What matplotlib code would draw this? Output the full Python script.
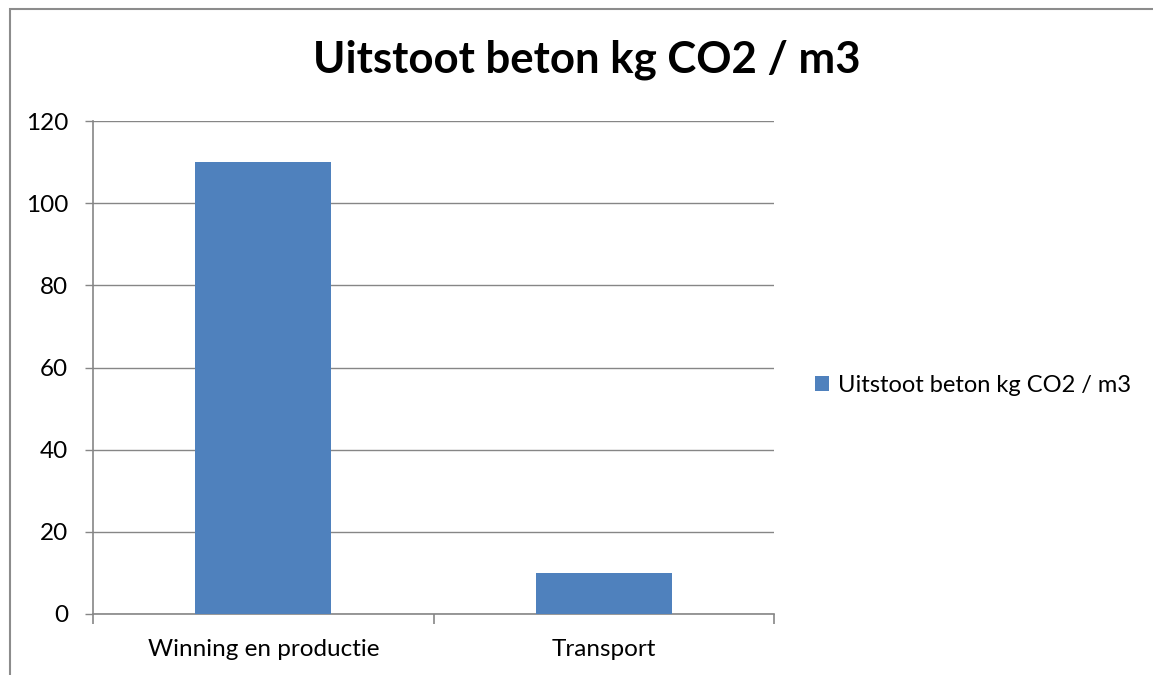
import matplotlib
matplotlib.use("Agg")
import matplotlib.pyplot as plt
from matplotlib.patches import Rectangle

categories = ["Winning en productie", "Transport"]
values = [110, 10]
series_name = "Uitstoot beton kg CO2 / m3"
title = "Uitstoot beton kg CO2 / m3"
yticks = [0, 20, 40, 60, 80, 100, 120]

plt.rcParams['font.family'] = ['Lato', 'DejaVu Sans']
W, H = 1153, 675
fig = plt.figure(figsize=(W/100, H/100), dpi=100)
ax = fig.add_axes([93/W, 1-614/H, (774-93)/W, (614-121)/H])

grid_c = "#868686"
bar_c = "#4F81BD"
x = list(range(len(categories)))
ax.bar(x, values, width=0.4, color=bar_c, label=series_name, zorder=3)
ax.set_xlim(-0.5, len(categories)-0.5)
ax.set_ylim(0, 120)
ax.set_yticks(yticks)
ax.set_yticklabels([str(v) for v in yticks], fontsize=17.5)
ax.yaxis.grid(True, color=grid_c, linewidth=1.0, zorder=0)
ax.set_xticks(x)
ax.set_xticklabels(categories, fontsize=17.5)
ax.set_xticks([-0.5, 0.5, 1.5], minor=True)
ax.tick_params(axis='x', which='major', length=0, pad=18)
ax.tick_params(axis='x', which='minor', length=7, color=grid_c, width=1.2, direction='out')
ax.tick_params(axis='y', length=6, color=grid_c, width=1.0, pad=12)
for s in ['top', 'right']:
    ax.spines[s].set_visible(False)
ax.spines['left'].set_color(grid_c)
ax.spines['bottom'].set_color(grid_c)
ax.spines['left'].set_linewidth(1.2)
ax.spines['bottom'].set_linewidth(1.2)

fig.text(587/W, 1-60/H, title, ha='center', va='center', fontsize=31.5, fontweight='bold')

leg = fig.legend(loc='center left', bbox_to_anchor=(794/W, 1-385/H), frameon=False,
                 fontsize=17, handlelength=0.6, handleheight=0.6, handletextpad=0.35)

fig.add_artist(Rectangle((10/W, -0.1), 1.2, 1-9/H+0.1, transform=fig.transFigure,
                         fill=False, edgecolor="#8c8c8c", linewidth=1.5))

fig.savefig("out.png", dpi=100)
